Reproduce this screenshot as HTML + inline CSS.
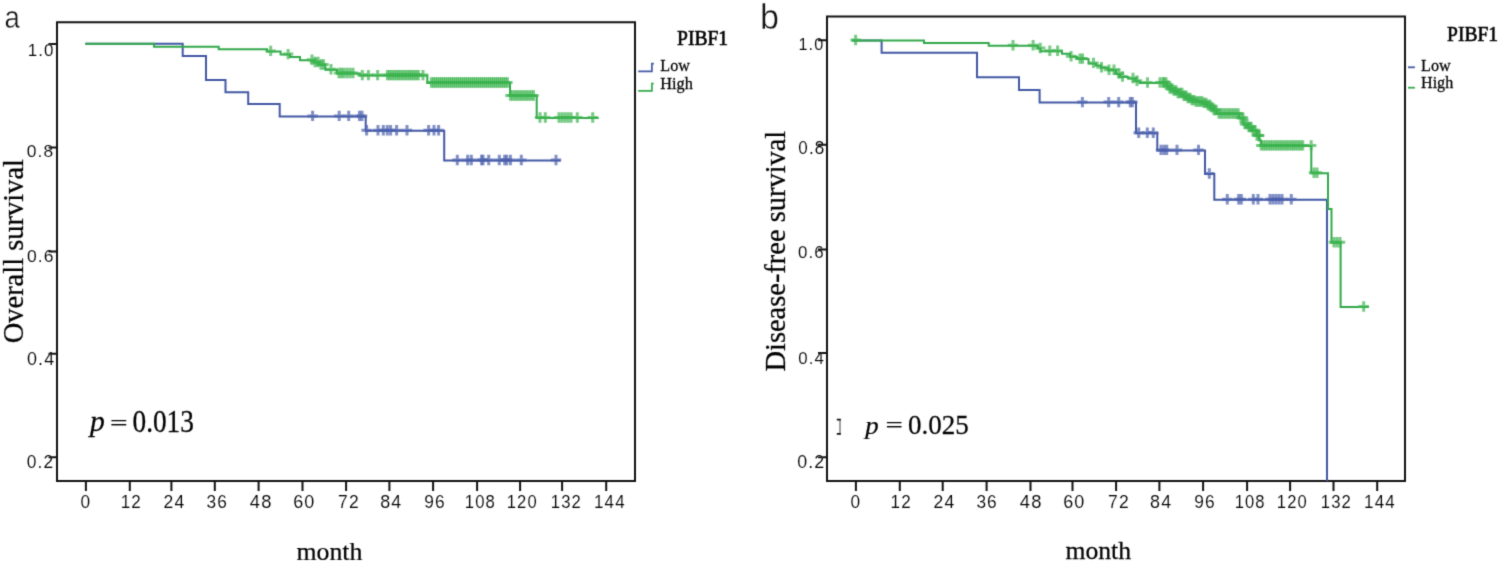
<!DOCTYPE html><html><head><meta charset="utf-8"><style>html,body{margin:0;padding:0;background:#fff}svg{display:block}</style></head><body><svg width="1499" height="563" viewBox="0 0 1499 563">
<style>.tk{font-family:"Liberation Sans",sans-serif;font-size:17.5px;letter-spacing:1.1px;stroke:#fff;stroke-width:0.1px}.sr{font-family:"Liberation Serif",serif;stroke:#000;stroke-width:0.25px}.ss{font-family:"Liberation Sans",sans-serif;stroke:#fff;stroke-width:0.4px}</style>
<defs><filter id="bl" x="0" y="0" width="100%" height="100%" filterUnits="userSpaceOnUse" primitiveUnits="userSpaceOnUse" color-interpolation-filters="sRGB"><feConvolveMatrix order="3" kernelMatrix="0.04000000000000001 0.2 0.04000000000000001 0.2 1 0.2 0.04000000000000001 0.2 0.04000000000000001" divisor="1.9599999999999997" edgeMode="duplicate"/></filter></defs>
<rect width="1499" height="563" fill="#fff"/>
<g filter="url(#bl)">
<path d="M57,22.3H635V481H57Z" stroke="#111" stroke-width="2.0" fill="none"/>
<path d="M48.5,43.9H57M48.5,147.6H57M48.5,251.5H57M48.5,353.7H57M48.5,457.3H57M85.9,481V491M129.8,481V491M171.4,481V491M214.8,481V491M258.6,481V491M302.5,481V491M346.1,481V491M389.4,481V491M433.1,481V491M477.1,481V491M520.1,481V491M562.1,481V491M606.2,481V491" stroke="#111" stroke-width="2"/>
<path d="M827,16.5H1405V481H827Z" stroke="#111" stroke-width="2.0" fill="none"/>
<path d="M818.0,40.2H827M818.0,144.7H827M818.0,249.6H827M818.0,353.1H827M818.0,457.3H827M855.9,481V491M899.8,481V491M942.7,481V491M986.6,481V491M1030.5,481V491M1072.5,481V491M1116.1,481V491M1159.4,481V491M1203.1,481V491M1247.1,481V491M1290.1,481V491M1333.5,481V491M1377.2,481V491" stroke="#111" stroke-width="2"/>
<path d="M638.2,71.3H651.9V63.6H653.8" stroke="#4258a4" stroke-width="1.7" fill="none"/>
<path d="M638.2,90.9H651.9V83.5H653.8" stroke="#32a94b" stroke-width="1.7" fill="none"/>
<path d="M1408,67.3H1414.9" stroke="#4258a4" stroke-width="1.8"/>
<path d="M1408,87.7H1414.9" stroke="#32a94b" stroke-width="1.8"/>
<path d="M840,419V434.5" stroke="#777" stroke-width="1.4" fill="none"/><path d="M836.8,419.6H840.8M836.8,433.9H840.8" stroke="#111" stroke-width="1.9" fill="none"/>
<path d="M85.3,43.8H182.7V56.0H206.0V80.0H225.5V92.3H248.2V104.0H279.7V116.4H365.7V130.7H444.2V160.5H560.6" stroke="#4258a4" stroke-width="2.0" fill="none"/>
<g stroke="#4a60ac" stroke-width="3.0" stroke-opacity="0.7" fill="none"><path d="M307.4,115.9h10.4M312.6,110.7v10.4"/><path d="M334.0,115.9h10.4M339.2,110.7v10.4"/><path d="M343.5,115.9h10.4M348.7,110.7v10.4"/><path d="M354.3,115.9h10.4M359.5,110.7v10.4"/><path d="M356.8,115.9h10.4M362.0,110.7v10.4"/><path d="M361.4,130.2h10.4M366.6,125.0v10.4"/><path d="M372.8,130.2h10.4M378.0,125.0v10.4"/><path d="M378.1,130.2h10.4M383.3,125.0v10.4"/><path d="M382.1,130.2h10.4M387.3,125.0v10.4"/><path d="M385.4,130.2h10.4M390.6,125.0v10.4"/><path d="M391.4,130.2h10.4M396.6,125.0v10.4"/><path d="M401.8,130.2h10.4M407.0,125.0v10.4"/><path d="M423.4,130.2h10.4M428.6,125.0v10.4"/><path d="M428.8,130.2h10.4M434.0,125.0v10.4"/><path d="M433.4,130.2h10.4M438.6,125.0v10.4"/><path d="M452.1,160.0h10.4M457.3,154.8v10.4"/><path d="M462.5,160.0h10.4M467.7,154.8v10.4"/><path d="M466.1,160.0h10.4M471.3,154.8v10.4"/><path d="M476.4,160.0h10.4M481.6,154.8v10.4"/><path d="M477.8,160.0h10.4M483.0,154.8v10.4"/><path d="M483.5,160.0h10.4M488.7,154.8v10.4"/><path d="M494.1,160.0h10.4M499.3,154.8v10.4"/><path d="M499.5,160.0h10.4M504.7,154.8v10.4"/><path d="M501.5,160.0h10.4M506.7,154.8v10.4"/><path d="M505.2,160.0h10.4M510.4,154.8v10.4"/><path d="M516.1,160.0h10.4M521.3,154.8v10.4"/><path d="M550.8,160.0h10.4M556.0,154.8v10.4"/></g>
<path d="M85.3,43.8H154.0V46.7H218.7V49.2H267.0V51.4H280.6V54.6H290.0V57.0H300.0V60.2H314.0V62.5H319.0V65.0H325.3V69.8H337.0V73.5H359.8V75.6H427.3V83.0H510.0V96.0H536.7V118.0H598.7" stroke="#32a94b" stroke-width="2.0" fill="none"/>
<g stroke="#3cb44f" stroke-width="3.0" stroke-opacity="0.7" fill="none"><path d="M265.5,50.9h10.4M270.7,45.7v10.4"/><path d="M282.9,54.1h10.4M288.1,48.9v10.4"/><path d="M306.8,59.7h10.4M312.0,54.5v10.4"/><path d="M309.8,62.0h10.4M315.0,56.8v10.4"/><path d="M312.8,62.0h10.4M318.0,56.8v10.4"/><path d="M315.8,64.5h10.4M321.0,59.3v10.4"/><path d="M318.3,64.5h10.4M323.5,59.3v10.4"/><path d="M325.8,69.3h10.4M331.0,64.1v10.4"/><path d="M333.8,73.0h10.4M339.0,67.8v10.4"/><path d="M336.3,73.0h10.4M341.5,67.8v10.4"/><path d="M338.8,73.0h10.4M344.0,67.8v10.4"/><path d="M341.8,73.0h10.4M347.0,67.8v10.4"/><path d="M344.8,73.0h10.4M350.0,67.8v10.4"/><path d="M347.8,73.0h10.4M353.0,67.8v10.4"/><path d="M357.1,75.1h10.4M362.3,69.9v10.4"/><path d="M363.2,75.1h10.4M368.4,69.9v10.4"/><path d="M372.4,75.1h10.4M377.6,69.9v10.4"/><path d="M382.3,75.1h10.4M387.5,69.9v10.4"/><path d="M384.5,75.1h10.4M389.7,69.9v10.4"/><path d="M386.7,75.1h10.4M391.9,69.9v10.4"/><path d="M388.9,75.1h10.4M394.1,69.9v10.4"/><path d="M391.1,75.1h10.4M396.3,69.9v10.4"/><path d="M393.3,75.1h10.4M398.5,69.9v10.4"/><path d="M395.5,75.1h10.4M400.7,69.9v10.4"/><path d="M397.7,75.1h10.4M402.9,69.9v10.4"/><path d="M399.9,75.1h10.4M405.1,69.9v10.4"/><path d="M402.1,75.1h10.4M407.3,69.9v10.4"/><path d="M404.3,75.1h10.4M409.5,69.9v10.4"/><path d="M406.5,75.1h10.4M411.7,69.9v10.4"/><path d="M408.7,75.1h10.4M413.9,69.9v10.4"/><path d="M410.9,75.1h10.4M416.1,69.9v10.4"/><path d="M413.1,75.1h10.4M418.3,69.9v10.4"/><path d="M417.8,75.1h10.4M423.0,69.9v10.4"/><path d="M426.2,82.5h10.4M431.4,77.3v10.4"/><path d="M428.2,82.5h10.4M433.4,77.3v10.4"/><path d="M430.2,82.5h10.4M435.4,77.3v10.4"/><path d="M432.2,82.5h10.4M437.4,77.3v10.4"/><path d="M434.2,82.5h10.4M439.4,77.3v10.4"/><path d="M436.2,82.5h10.4M441.4,77.3v10.4"/><path d="M438.2,82.5h10.4M443.4,77.3v10.4"/><path d="M440.2,82.5h10.4M445.4,77.3v10.4"/><path d="M442.2,82.5h10.4M447.4,77.3v10.4"/><path d="M444.2,82.5h10.4M449.4,77.3v10.4"/><path d="M446.2,82.5h10.4M451.4,77.3v10.4"/><path d="M448.2,82.5h10.4M453.4,77.3v10.4"/><path d="M450.2,82.5h10.4M455.4,77.3v10.4"/><path d="M452.2,82.5h10.4M457.4,77.3v10.4"/><path d="M454.2,82.5h10.4M459.4,77.3v10.4"/><path d="M456.2,82.5h10.4M461.4,77.3v10.4"/><path d="M458.2,82.5h10.4M463.4,77.3v10.4"/><path d="M460.2,82.5h10.4M465.4,77.3v10.4"/><path d="M462.2,82.5h10.4M467.4,77.3v10.4"/><path d="M464.2,82.5h10.4M469.4,77.3v10.4"/><path d="M466.2,82.5h10.4M471.4,77.3v10.4"/><path d="M468.2,82.5h10.4M473.4,77.3v10.4"/><path d="M470.2,82.5h10.4M475.4,77.3v10.4"/><path d="M472.2,82.5h10.4M477.4,77.3v10.4"/><path d="M474.2,82.5h10.4M479.4,77.3v10.4"/><path d="M476.2,82.5h10.4M481.4,77.3v10.4"/><path d="M478.2,82.5h10.4M483.4,77.3v10.4"/><path d="M480.2,82.5h10.4M485.4,77.3v10.4"/><path d="M482.2,82.5h10.4M487.4,77.3v10.4"/><path d="M484.2,82.5h10.4M489.4,77.3v10.4"/><path d="M486.2,82.5h10.4M491.4,77.3v10.4"/><path d="M488.2,82.5h10.4M493.4,77.3v10.4"/><path d="M490.2,82.5h10.4M495.4,77.3v10.4"/><path d="M492.2,82.5h10.4M497.4,77.3v10.4"/><path d="M494.2,82.5h10.4M499.4,77.3v10.4"/><path d="M496.2,82.5h10.4M501.4,77.3v10.4"/><path d="M498.2,82.5h10.4M503.4,77.3v10.4"/><path d="M500.2,82.5h10.4M505.4,77.3v10.4"/><path d="M502.2,82.5h10.4M507.4,77.3v10.4"/><path d="M505.3,95.5h10.4M510.5,90.3v10.4"/><path d="M507.6,95.5h10.4M512.8,90.3v10.4"/><path d="M509.9,95.5h10.4M515.1,90.3v10.4"/><path d="M512.2,95.5h10.4M517.4,90.3v10.4"/><path d="M514.5,95.5h10.4M519.7,90.3v10.4"/><path d="M516.8,95.5h10.4M522.0,90.3v10.4"/><path d="M519.1,95.5h10.4M524.3,90.3v10.4"/><path d="M521.4,95.5h10.4M526.6,90.3v10.4"/><path d="M523.7,95.5h10.4M528.9,90.3v10.4"/><path d="M526.0,95.5h10.4M531.2,90.3v10.4"/><path d="M528.3,95.5h10.4M533.5,90.3v10.4"/><path d="M534.8,117.5h10.4M540.0,112.3v10.4"/><path d="M540.1,117.5h10.4M545.3,112.3v10.4"/><path d="M553.8,117.5h10.4M559.0,112.3v10.4"/><path d="M556.8,117.5h10.4M562.0,112.3v10.4"/><path d="M559.8,117.5h10.4M565.0,112.3v10.4"/><path d="M562.8,117.5h10.4M568.0,112.3v10.4"/><path d="M565.8,117.5h10.4M571.0,112.3v10.4"/><path d="M572.1,117.5h10.4M577.3,112.3v10.4"/><path d="M587.5,117.5h10.4M592.7,112.3v10.4"/></g>
<path d="M852.0,40.5H881.6V52.7H977.0V77.3H1019.0V90.0H1039.6V102.6H1136.0V133.3H1157.3V150.4H1205.0V174.0H1214.3V199.7H1327.0V481.0H1327.0" stroke="#4258a4" stroke-width="2.0" fill="none"/>
<g stroke="#4a60ac" stroke-width="3.0" stroke-opacity="0.7" fill="none"><path d="M1077.2,102.1h10.4M1082.4,96.9v10.4"/><path d="M1103.5,102.1h10.4M1108.7,96.9v10.4"/><path d="M1113.5,102.1h10.4M1118.7,96.9v10.4"/><path d="M1125.1,102.1h10.4M1130.3,96.9v10.4"/><path d="M1127.1,102.1h10.4M1132.3,96.9v10.4"/><path d="M1133.5,132.8h10.4M1138.7,127.6v10.4"/><path d="M1142.1,132.8h10.4M1147.3,127.6v10.4"/><path d="M1148.1,132.8h10.4M1153.3,127.6v10.4"/><path d="M1155.8,149.9h10.4M1161.0,144.7v10.4"/><path d="M1158.8,149.9h10.4M1164.0,144.7v10.4"/><path d="M1161.5,149.9h10.4M1166.7,144.7v10.4"/><path d="M1171.8,149.9h10.4M1177.0,144.7v10.4"/><path d="M1193.3,149.9h10.4M1198.5,144.7v10.4"/><path d="M1204.1,173.5h10.4M1209.3,168.3v10.4"/><path d="M1222.1,199.2h10.4M1227.3,194.0v10.4"/><path d="M1233.5,199.2h10.4M1238.7,194.0v10.4"/><path d="M1236.1,199.2h10.4M1241.3,194.0v10.4"/><path d="M1248.1,199.2h10.4M1253.3,194.0v10.4"/><path d="M1252.8,199.2h10.4M1258.0,194.0v10.4"/><path d="M1264.8,199.2h10.4M1270.0,194.0v10.4"/><path d="M1267.8,199.2h10.4M1273.0,194.0v10.4"/><path d="M1270.8,199.2h10.4M1276.0,194.0v10.4"/><path d="M1273.8,199.2h10.4M1279.0,194.0v10.4"/><path d="M1276.8,199.2h10.4M1282.0,194.0v10.4"/><path d="M1286.1,199.2h10.4M1291.3,194.0v10.4"/></g>
<path d="M852.0,40.5H924.0V43.1H988.7V45.7H1038.0V48.5H1040.6V51.3H1062.0V53.8H1070.0V56.7H1077.0V59.1H1088.5V63.4H1096.0V65.5H1101.0V67.8H1108.0V70.3H1116.0V74.0H1120.0V77.0H1128.0V78.5H1135.5V81.3H1139.7V83.0H1167.0V86.0H1170.0V89.0H1174.0V91.0H1178.0V93.5H1183.0V96.3H1187.0V98.5H1190.5V100.6H1196.0V102.0H1202.6V103.4H1207.0V105.5H1211.0V107.7H1214.0V110.5H1216.8V114.0H1239.0V118.3H1243.3V124.5H1248.0V127.5H1252.2V130.8H1256.6V136.0H1259.3V140.5H1261.0V145.9H1311.3V173.3H1328.0V209.0H1331.5V242.7H1340.6V307.0H1369.0" stroke="#32a94b" stroke-width="2.0" fill="none"/>
<g stroke="#3cb44f" stroke-width="3.0" stroke-opacity="0.7" fill="none"><path d="M850.4,40.0h10.4M855.6,34.8v10.4"/><path d="M1007.8,45.2h10.4M1013.0,40.0v10.4"/><path d="M1027.9,45.2h10.4M1033.1,40.0v10.4"/><path d="M1035.0,48.0h10.4M1040.2,42.8v10.4"/><path d="M1044.6,50.8h10.4M1049.8,45.6v10.4"/><path d="M1052.4,50.8h10.4M1057.6,45.6v10.4"/><path d="M1065.9,56.2h10.4M1071.1,51.0v10.4"/><path d="M1074.8,58.6h10.4M1080.0,53.4v10.4"/><path d="M1077.3,58.6h10.4M1082.5,53.4v10.4"/><path d="M1088.3,62.9h10.4M1093.5,57.7v10.4"/><path d="M1096.3,67.3h10.4M1101.5,62.1v10.4"/><path d="M1103.8,69.8h10.4M1109.0,64.6v10.4"/><path d="M1108.8,69.8h10.4M1114.0,64.6v10.4"/><path d="M1113.8,73.5h10.4M1119.0,68.3v10.4"/><path d="M1117.3,76.5h10.4M1122.5,71.3v10.4"/><path d="M1127.8,78.0h10.4M1133.0,72.8v10.4"/><path d="M1131.8,80.8h10.4M1137.0,75.6v10.4"/><path d="M1142.3,82.5h10.4M1147.5,77.3v10.4"/><path d="M1154.8,82.5h10.4M1160.0,77.3v10.4"/><path d="M1157.8,82.5h10.4M1163.0,77.3v10.4"/><path d="M1158.8,82.5h10.4M1164.0,77.3v10.4"/><path d="M1160.8,82.5h10.4M1166.0,77.3v10.4"/><path d="M1162.8,85.5h10.4M1168.0,80.3v10.4"/><path d="M1164.8,88.5h10.4M1170.0,83.3v10.4"/><path d="M1166.8,88.5h10.4M1172.0,83.3v10.4"/><path d="M1168.8,90.5h10.4M1174.0,85.3v10.4"/><path d="M1170.8,90.5h10.4M1176.0,85.3v10.4"/><path d="M1172.8,93.0h10.4M1178.0,87.8v10.4"/><path d="M1174.8,93.0h10.4M1180.0,87.8v10.4"/><path d="M1176.8,93.0h10.4M1182.0,87.8v10.4"/><path d="M1178.8,95.8h10.4M1184.0,90.6v10.4"/><path d="M1180.8,95.8h10.4M1186.0,90.6v10.4"/><path d="M1182.8,98.0h10.4M1188.0,92.8v10.4"/><path d="M1184.8,98.0h10.4M1190.0,92.8v10.4"/><path d="M1186.8,100.1h10.4M1192.0,94.9v10.4"/><path d="M1188.8,100.1h10.4M1194.0,94.9v10.4"/><path d="M1190.8,101.5h10.4M1196.0,96.3v10.4"/><path d="M1192.8,101.5h10.4M1198.0,96.3v10.4"/><path d="M1194.8,101.5h10.4M1200.0,96.3v10.4"/><path d="M1196.8,101.5h10.4M1202.0,96.3v10.4"/><path d="M1198.8,102.9h10.4M1204.0,97.7v10.4"/><path d="M1200.8,102.9h10.4M1206.0,97.7v10.4"/><path d="M1202.8,105.0h10.4M1208.0,99.8v10.4"/><path d="M1204.8,105.0h10.4M1210.0,99.8v10.4"/><path d="M1206.8,107.2h10.4M1212.0,102.0v10.4"/><path d="M1208.8,110.0h10.4M1214.0,104.8v10.4"/><path d="M1210.8,110.0h10.4M1216.0,104.8v10.4"/><path d="M1213.8,113.5h10.4M1219.0,108.3v10.4"/><path d="M1216.2,113.5h10.4M1221.4,108.3v10.4"/><path d="M1218.6,113.5h10.4M1223.8,108.3v10.4"/><path d="M1221.0,113.5h10.4M1226.2,108.3v10.4"/><path d="M1223.4,113.5h10.4M1228.6,108.3v10.4"/><path d="M1225.8,113.5h10.4M1231.0,108.3v10.4"/><path d="M1228.2,113.5h10.4M1233.4,108.3v10.4"/><path d="M1230.6,113.5h10.4M1235.8,108.3v10.4"/><path d="M1233.0,113.5h10.4M1238.2,108.3v10.4"/><path d="M1235.8,117.8h10.4M1241.0,112.6v10.4"/><path d="M1237.8,117.8h10.4M1243.0,112.6v10.4"/><path d="M1239.8,124.0h10.4M1245.0,118.8v10.4"/><path d="M1241.8,124.0h10.4M1247.0,118.8v10.4"/><path d="M1243.8,127.0h10.4M1249.0,121.8v10.4"/><path d="M1245.8,127.0h10.4M1251.0,121.8v10.4"/><path d="M1247.8,130.3h10.4M1253.0,125.1v10.4"/><path d="M1249.8,130.3h10.4M1255.0,125.1v10.4"/><path d="M1251.8,135.5h10.4M1257.0,130.3v10.4"/><path d="M1253.8,135.5h10.4M1259.0,130.3v10.4"/><path d="M1253.8,135.5h10.4M1259.0,130.3v10.4"/><path d="M1256.1,145.4h10.4M1261.3,140.2v10.4"/><path d="M1258.4,145.4h10.4M1263.6,140.2v10.4"/><path d="M1260.7,145.4h10.4M1265.9,140.2v10.4"/><path d="M1263.0,145.4h10.4M1268.2,140.2v10.4"/><path d="M1265.3,145.4h10.4M1270.5,140.2v10.4"/><path d="M1267.6,145.4h10.4M1272.8,140.2v10.4"/><path d="M1269.9,145.4h10.4M1275.1,140.2v10.4"/><path d="M1272.2,145.4h10.4M1277.4,140.2v10.4"/><path d="M1274.5,145.4h10.4M1279.7,140.2v10.4"/><path d="M1276.8,145.4h10.4M1282.0,140.2v10.4"/><path d="M1279.1,145.4h10.4M1284.3,140.2v10.4"/><path d="M1281.4,145.4h10.4M1286.6,140.2v10.4"/><path d="M1283.7,145.4h10.4M1288.9,140.2v10.4"/><path d="M1286.0,145.4h10.4M1291.2,140.2v10.4"/><path d="M1288.3,145.4h10.4M1293.5,140.2v10.4"/><path d="M1290.6,145.4h10.4M1295.8,140.2v10.4"/><path d="M1292.9,145.4h10.4M1298.1,140.2v10.4"/><path d="M1295.2,145.4h10.4M1300.4,140.2v10.4"/><path d="M1297.5,145.4h10.4M1302.7,140.2v10.4"/><path d="M1306.0,145.4h10.4M1311.2,140.2v10.4"/><path d="M1308.8,172.8h10.4M1314.0,167.6v10.4"/><path d="M1311.8,172.8h10.4M1317.0,167.6v10.4"/><path d="M1328.8,242.2h10.4M1334.0,237.0v10.4"/><path d="M1331.8,242.2h10.4M1337.0,237.0v10.4"/><path d="M1334.8,242.2h10.4M1340.0,237.0v10.4"/><path d="M1358.5,306.5h10.4M1363.7,301.3v10.4"/></g>
<g transform="translate(-0.94,-5.18) scale(1.0392,1.0175)"><text fill="#000" class="sr" font-size="28" transform="translate(23,342.5) rotate(-90)">Overall survival</text></g><g transform="translate(-22.76,-5.12) scale(1.0292,1.0158)"><text fill="#000" class="sr" font-size="28" transform="translate(785,370.8) rotate(-90)">Disease-free survival</text></g><g transform="translate(1.75,16.57) scale(0.9924,0.9710)"><text fill="#000" class="sr" font-size="26" x="297" y="559.7">month</text></g><g transform="translate(12.80,-2.93) scale(0.9875,1.0052)"><text fill="#000" class="sr" font-size="26" x="1066" y="558.9">month</text></g><g transform="translate(-3.16,-23.25) scale(1.0588,1.0526)"><text fill="#000" class="sr" font-size="28" font-style="italic" x="88" y="431.6">p</text></g><g transform="translate(-12.54,100.11) scale(1.1146,0.7634)"><text fill="#000" class="sr" font-size="28" x="110" y="431.6">=</text></g><g transform="translate(2.91,-38.83) scale(0.9744,1.0904)"><text fill="#000" class="sr" font-size="28" x="133" y="431.6">0.013</text></g><g transform="translate(37.55,36.73) scale(0.9581,0.9150)"><text fill="#000" class="sr" font-size="28" font-style="italic" x="864" y="434">p</text></g><g transform="translate(-87.37,100.57) scale(1.0980,0.7634)"><text fill="#000" class="sr" font-size="28" x="886" y="434">=</text></g><g transform="translate(29.89,-3.98) scale(0.9671,1.0095)"><text fill="#000" class="sr" font-size="28" x="908" y="434">0.025</text></g><g transform="translate(15.16,-0.99) scale(0.9777,1.0306)"><text fill="#000" class="sr" style="stroke-width:0.6px" font-size="20" x="677" y="45">PIBF1</text></g><g transform="translate(-8.51,-3.87) scale(1.0118,1.0576)"><text fill="#000" class="sr" font-size="16" x="661" y="71">Low</text></g><g transform="translate(-11.23,0.16) scale(1.0159,1.0159)"><text fill="#000" class="sr" font-size="16" x="661" y="87.6">High</text></g><g transform="translate(35.12,0.20) scale(0.9758,1.0000)"><text fill="#000" class="sr" style="stroke-width:0.6px" font-size="20" x="1447" y="41.2">PIBF1</text></g><g transform="translate(-18.00,-6.04) scale(1.0127,1.0872)"><text fill="#000" class="sr" font-size="16" x="1421" y="70.5">Low</text></g><g transform="translate(-9.63,0.21) scale(1.0068,1.0068)"><text fill="#000" class="sr" font-size="16" x="1421" y="87">High</text></g><g transform="translate(0.87,0.65) scale(0.8921,0.9926)"><text fill="#111" class="ss" font-size="31" x="4" y="28">a</text></g><g transform="translate(-22.97,-1.04) scale(1.0304,1.0577)"><text fill="#111" class="ss" font-size="33" x="760" y="28">b</text></g><g transform="translate(0.13,-7.87) scale(0.9891,1.0159)"><text fill="#000" class="tk" x="81.2" y="507.5">0</text></g><g transform="translate(8.54,-7.87) scale(0.9891,1.0159)"><text fill="#000" class="tk" x="851.2" y="507.5">0</text></g><g transform="translate(1.40,-7.87) scale(0.9782,1.0159)"><text fill="#000" class="tk" x="121.9" y="507.5">12</text></g><g transform="translate(18.17,-7.87) scale(0.9782,1.0159)"><text fill="#000" class="tk" x="891.9" y="507.5">12</text></g><g transform="translate(-1.91,-7.87) scale(1.0068,1.0159)"><text fill="#000" class="tk" x="164.3" y="507.5">24</text></g><g transform="translate(-7.12,-7.87) scale(1.0068,1.0159)"><text fill="#000" class="tk" x="934.3" y="507.5">24</text></g><g transform="translate(1.16,-7.87) scale(0.9902,1.0159)"><text fill="#000" class="tk" x="207.3" y="507.5">36</text></g><g transform="translate(8.69,-7.87) scale(0.9902,1.0159)"><text fill="#000" class="tk" x="977.3" y="507.5">36</text></g><g transform="translate(-13.23,-7.87) scale(1.0515,1.0159)"><text fill="#000" class="tk" x="250.2" y="507.5">48</text></g><g transform="translate(-52.90,-7.87) scale(1.0515,1.0159)"><text fill="#000" class="tk" x="1020.2" y="507.5">48</text></g><g transform="translate(-9.97,-7.87) scale(1.0307,1.0159)"><text fill="#000" class="tk" x="294.1" y="507.5">60</text></g><g transform="translate(-33.60,-7.87) scale(1.0307,1.0159)"><text fill="#000" class="tk" x="1064.1" y="507.5">60</text></g><g transform="translate(-1.94,-7.87) scale(1.0029,1.0159)"><text fill="#000" class="tk" x="339" y="507.5">72</text></g><g transform="translate(-4.19,-7.87) scale(1.0029,1.0159)"><text fill="#000" class="tk" x="1109" y="507.5">72</text></g><g transform="translate(-9.97,-7.87) scale(1.0239,1.0159)"><text fill="#000" class="tk" x="381" y="507.5">84</text></g><g transform="translate(-28.39,-7.87) scale(1.0239,1.0159)"><text fill="#000" class="tk" x="1151" y="507.5">84</text></g><g transform="translate(2.62,-7.87) scale(0.9920,1.0159)"><text fill="#000" class="tk" x="425" y="507.5">96</text></g><g transform="translate(8.80,-7.87) scale(0.9920,1.0159)"><text fill="#000" class="tk" x="1195" y="507.5">96</text></g><g transform="translate(20.25,-7.87) scale(0.9538,1.0159)"><text fill="#000" class="tk" x="466.1" y="507.5">108</text></g><g transform="translate(64.76,-7.87) scale(0.9466,1.0159)"><text fill="#000" class="tk" x="1236.1" y="507.5">108</text></g><g transform="translate(24.82,-7.87) scale(0.9487,1.0159)"><text fill="#000" class="tk" x="508.1" y="507.5">120</text></g><g transform="translate(64.33,-7.87) scale(0.9487,1.0159)"><text fill="#000" class="tk" x="1278.1" y="507.5">120</text></g><g transform="translate(23.53,-7.87) scale(0.9551,1.0159)"><text fill="#000" class="tk" x="552.1" y="507.5">132</text></g><g transform="translate(58.10,-7.87) scale(0.9551,1.0159)"><text fill="#000" class="tk" x="1322.1" y="507.5">132</text></g><g transform="translate(16.61,-7.87) scale(0.9703,1.0159)"><text fill="#000" class="tk" x="595.2" y="507.5">144</text></g><g transform="translate(39.48,-7.87) scale(0.9703,1.0159)"><text fill="#000" class="tk" x="1365.2" y="507.5">144</text></g><g transform="translate(-0.40,0.76) scale(0.9689,0.9910)"><text fill="#000" class="tk" x="29.1" y="55.6">1.0</text></g><g transform="translate(-0.55,1.10) scale(0.9947,0.9910)"><text fill="#000" class="tk" x="27.5" y="157.7">0.8</text></g><g transform="translate(-0.67,4.28) scale(1.0027,0.9842)"><text fill="#000" class="tk" x="27.6" y="261.8">0.6</text></g><g transform="translate(-1.35,-18.11) scale(1.0261,1.0485)"><text fill="#000" class="tk" x="27.6" y="365.2">0.4</text></g><g transform="translate(-0.49,-34.65) scale(0.9928,1.0735)"><text fill="#000" class="tk" x="27.5" y="468.0">0.2</text></g><g transform="translate(57.18,1.61) scale(0.9270,0.9666)"><text fill="#000" class="tk" x="799.8" y="50.0">1.0</text></g><g transform="translate(18.57,-1.02) scale(0.9761,1.0085)"><text fill="#000" class="tk" x="798.9" y="154.1">0.8</text></g><g transform="translate(27.83,7.33) scale(0.9644,0.9717)"><text fill="#000" class="tk" x="798.7" y="257.8">0.6</text></g><g transform="translate(29.41,5.45) scale(0.9625,0.9845)"><text fill="#000" class="tk" x="798.9" y="363.7">0.4</text></g><g transform="translate(-17.41,-46.61) scale(1.0210,1.0988)"><text fill="#000" class="tk" x="797.8" y="468.0">0.2</text></g>
</g>
</svg></body></html>
